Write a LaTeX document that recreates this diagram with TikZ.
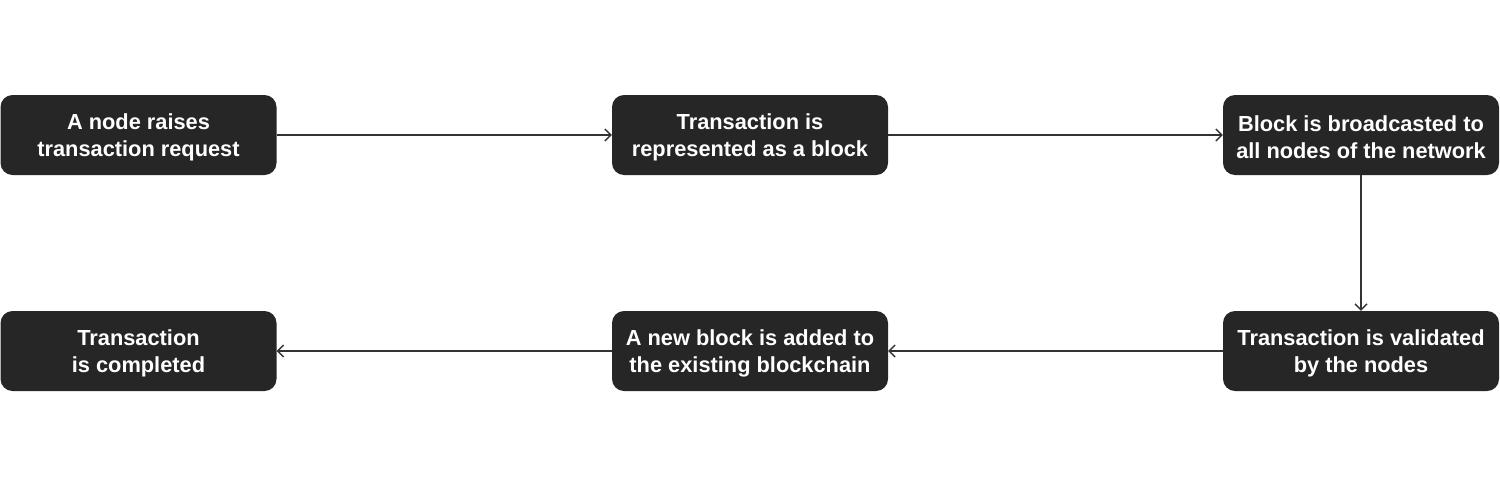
\documentclass[tikz,border=0pt]{standalone}
\usepackage{fontspec}
\setmainfont{Liberation Sans}
\usetikzlibrary{arrows.meta}
\begin{document}
\begin{tikzpicture}[x=1pt,y=-1pt,
  stepbox/.style={fill=boxc, rounded corners=12pt, minimum width=276pt, minimum height=80pt,
     text=white, font=\fontsize{21.8}{27}\selectfont\bfseries, align=center, inner sep=0pt},
  conn/.style={draw=linec, line width=1.4pt, -{Straight Barb[length=6pt,width=12pt,line width=1.4pt]}}]
\definecolor{boxc}{HTML}{262626}
\definecolor{linec}{HTML}{333333}
\useasboundingbox (0,0) rectangle (1500,483);
\node[stepbox] (a) at (138.5,135) {};
\node[stepbox] (b) at (750,135) {};
\node[stepbox] (c) at (1361,135) {};
\node[stepbox] (d) at (1361,351) {};
\node[stepbox] (e) at (750,351) {};
\node[stepbox] (f) at (138.5,351) {};
\path (a.center) ++(0,2) node[stepbox, fill=none] (ta) {A node raises\\transaction request};
\path (b.center) ++(0,2) node[stepbox, fill=none] (tb) {Transaction is\\represented as a block};
\path (c.center) ++(0,2) node[stepbox, fill=none] (tc) {Block is broadcasted to\\all nodes of the network};
\path (d.center) ++(0,2) node[stepbox, fill=none] (td) {Transaction is validated\\by the nodes};
\path (e.center) ++(0,2) node[stepbox, fill=none] (te) {A new block is added to\\the existing blockchain};
\path (f.center) ++(0,2) node[stepbox, fill=none] (tf) {Transaction\\is completed};
\draw[conn] (a) -- (b);
\draw[conn] (b) -- (c);
\draw[conn] (c) -- (d);
\draw[conn] (d) -- (e);
\draw[conn] (e) -- (f);
\end{tikzpicture}
\end{document}
